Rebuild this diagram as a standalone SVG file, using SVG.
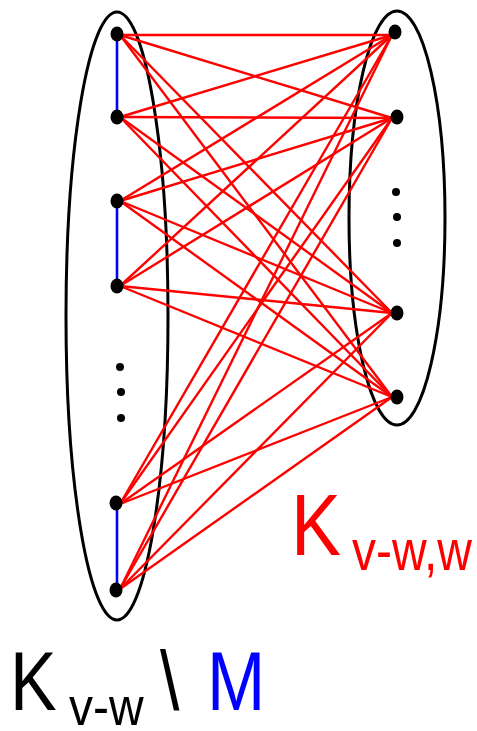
<svg xmlns="http://www.w3.org/2000/svg" width="477" height="731" viewBox="0 0 477 731">
<style>
.set{fill:none;stroke:#000;stroke-width:3}
.e{stroke:#ff0000;stroke-width:2.4;fill:none}
.m{stroke:#0000ff;stroke-width:2.6}
.n{fill:#000}
.lbl{font-family:"Liberation Sans",Arial,sans-serif}
</style>
<rect width="477" height="731" fill="#fff"/>
<g id="setLeft"><ellipse class="set" cx="117" cy="316" rx="51" ry="304"/></g>
<g id="setRight"><ellipse class="set" cx="397" cy="218" rx="48" ry="207"/></g>
<g id="connectors">
<g class="e">
<line x1="120" y1="35" x2="392" y2="35"/><line x1="120" y1="35" x2="392" y2="118"/><line x1="120" y1="35" x2="392" y2="313"/><line x1="120" y1="35" x2="392" y2="397"/>
<line x1="120" y1="117" x2="392" y2="35"/><line x1="120" y1="117" x2="392" y2="118"/><line x1="120" y1="117" x2="392" y2="313"/><line x1="120" y1="117" x2="392" y2="397"/>
<line x1="120" y1="201" x2="392" y2="35"/><line x1="120" y1="201" x2="392" y2="118"/><line x1="120" y1="201" x2="392" y2="313"/><line x1="120" y1="201" x2="392" y2="397"/>
<line x1="120" y1="286" x2="392" y2="35"/><line x1="120" y1="286" x2="392" y2="118"/><line x1="120" y1="286" x2="392" y2="313"/><line x1="120" y1="286" x2="392" y2="397"/>
<line x1="120" y1="504" x2="392" y2="35"/><line x1="120" y1="504" x2="392" y2="118"/><line x1="120" y1="504" x2="392" y2="313"/><line x1="120" y1="504" x2="392" y2="397"/>
<line x1="120" y1="589" x2="392" y2="35"/><line x1="120" y1="589" x2="392" y2="118"/><line x1="120" y1="589" x2="392" y2="313"/><line x1="120" y1="589" x2="392" y2="397"/>
</g>
<line class="m" x1="117" y1="35" x2="117" y2="117"/>
<line class="m" x1="117" y1="201" x2="117" y2="286"/>
<line class="m" x1="117" y1="503" x2="117" y2="589"/>
</g>
<g id="l1"><ellipse class="n" cx="117" cy="34" rx="6.5" ry="7.5"/></g>
<g id="l2"><ellipse class="n" cx="117" cy="117" rx="6.5" ry="7.5"/></g>
<g id="l3"><ellipse class="n" cx="117" cy="201" rx="6.5" ry="7.5"/></g>
<g id="l4"><ellipse class="n" cx="117" cy="286" rx="6.5" ry="7.5"/></g>
<g id="l5"><ellipse class="n" cx="116" cy="503" rx="6.5" ry="7.5"/></g>
<g id="l6"><ellipse class="n" cx="116" cy="590" rx="6.5" ry="7.5"/></g>
<g id="ldots"><circle class="n" cx="120" cy="367" r="4"/><circle class="n" cx="121" cy="392" r="4"/><circle class="n" cx="121" cy="418" r="4"/></g>
<g id="r1"><ellipse class="n" cx="395" cy="32" rx="6.5" ry="7.5"/></g>
<g id="r2"><ellipse class="n" cx="397" cy="117" rx="6.5" ry="7.5"/></g>
<g id="r3"><ellipse class="n" cx="397" cy="313" rx="6.5" ry="7.5"/></g>
<g id="r4"><ellipse class="n" cx="397" cy="397" rx="6.5" ry="7.5"/></g>
<g id="rdots"><circle class="n" cx="396" cy="192" r="4"/><circle class="n" cx="397" cy="217" r="4"/><circle class="n" cx="397" cy="243" r="4"/></g>
<g id="labelK" class="lbl" fill="#ff0000">
<text transform="translate(291,555) scale(1,1.16)" font-size="75">K</text>
<text transform="translate(352,570) scale(1,1.2)" font-size="48">v-w,w</text>
</g>
<g id="labelKM" class="lbl">
<text transform="translate(10,710) scale(1,1.18)" font-size="70" fill="#000">K</text>
<text transform="translate(69,725) scale(1,1.12)" font-size="48" fill="#000">v-w</text>
<text transform="translate(160,710) scale(1,1.18)" font-size="70" fill="#000">\</text>
<text transform="translate(207,710) scale(1,1.18)" font-size="70" fill="#0000ff">M</text>
</g>
</svg>
